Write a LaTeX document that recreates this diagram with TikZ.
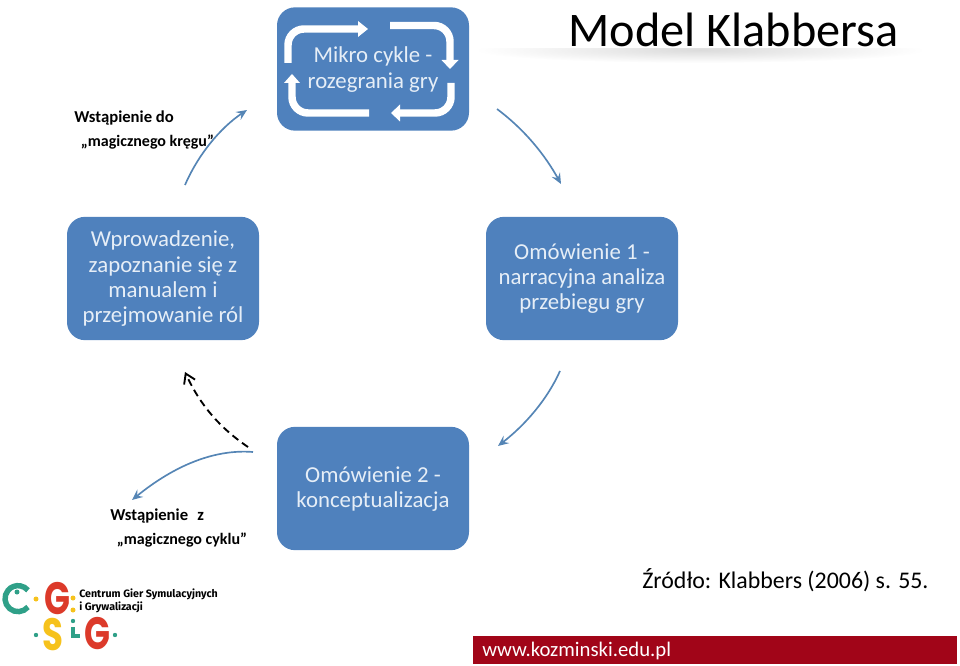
\documentclass[tikz,border=0pt]{standalone}
\usepackage{fontspec}
\setmainfont{Carlito}
\newfontfamily\logofont{Fira Sans}
\newfontfamily\logolettersfont{Poppins}
\usetikzlibrary{arrows.meta}
\definecolor{boxblue}{HTML}{4F81BD}
\definecolor{arrowblue}{HTML}{5585B5}
\definecolor{boxtext}{HTML}{E6EEF7}
\definecolor{bandred}{HTML}{A10518}
\definecolor{logoteal}{HTML}{2FA088}
\definecolor{logored}{HTML}{DC3A2A}
\definecolor{logoyellow}{HTML}{F6C21C}
\newcommand{\boxlines}[1]{\raisebox{-0.9pt}[\height][\depth]{\begin{tabular}{@{}c@{}}#1\end{tabular}}}
\tikzset{
  bluebox/.style={fill=boxblue,rounded corners=13.5pt,minimum width=144pt,minimum height=92.5pt,inner sep=0pt,outer sep=0pt,text=boxtext,font=\fontsize{17.1}{18.9}\selectfont},
  cyclearrow/.style={draw=arrowblue,line width=1.25pt,-{Stealth[length=8pt,width=7pt,inset=3pt]}},
  exitarrow/.style={draw=black,line width=1.4pt,dash pattern=on 5.5pt off 3.5pt,-{Straight Barb[length=7pt,width=9pt]}},
  sidelabel/.style={anchor=west,align=left,font=\fontsize{12}{18.2}\selectfont\bfseries,text=black,inner sep=0pt},
  cyc/.style={draw=white,line width=5.6pt,rounded corners=12pt},
  cychead/.style={fill=white,draw=none},
  logoletter/.style={inner sep=0pt,xscale=0.75,font=\fontsize{34}{34}\logolettersfont\bfseries},
  logotext/.style={inner sep=0pt,anchor=base west,font=\fontsize{8}{10}\logofont\bfseries},
}
\begin{document}
\begin{tikzpicture}[x=0.75pt,y=-0.75pt]
\useasboundingbox (0,0) rectangle (960,666);
% title shadow
\begin{scope}
\clip (470,49) rectangle (930,80);
\shade[inner color=black!14,outer color=white] (700,50) ellipse [x radius=225,y radius=13];
\end{scope}
\node[inner sep=0pt,font=\fontsize{36.2}{40}\selectfont] (title) at (733.5,30) {Model Klabbersa};
% boxes
\node[bluebox] (mikro) at (373,69) {\vphantom{x}};
\node[bluebox] (intro) at (163,278.5) {\boxlines{Wprowadzenie,\\zapoznanie się z\\manualem i\\przejmowanie ról}};
\node[bluebox] (om1) at (582,278.5) {\boxlines{Omówienie 1 -\\narracyjna analiza\\przebiegu gry}};
\node[bluebox] (om2) at (373,488.5) {\boxlines{Omówienie 2 -\\konceptualizacja}};
% micro cycle arrows
\draw[cyc] (288,63) -- (288,29) -- (358,29);
\fill[cychead] (358,21) -- (368,29) -- (358,37) -- cycle;
\draw[cyc] (390,25.5) -- (450,25.5) -- (450,61);
\fill[cychead] (441.5,60) -- (450,69) -- (458.5,60) -- cycle;
\draw[cyc] (451,83) -- (451,113) -- (400,113);
\fill[cychead] (400,104.5) -- (391,113) -- (400,121.5) -- cycle;
\draw[cyc] (369,113) -- (292,113) -- (292,83);
\fill[cychead] (284,83) -- (292,74) -- (300,83) -- cycle;
\node[inner sep=0pt,align=center,text=boxtext,font=\fontsize{17.1}{18.9}\selectfont] (mikrotext) at (373,69.5) {Mikro cykle -\\rozegrania gry};
% cycle arrows
\coordinate (a1) at (185,185); \coordinate (a2) at (247,110);
\coordinate (b1) at (497,109); \coordinate (b2) at (561,184);
\coordinate (c1) at (560,371); \coordinate (c2) at (498,446);
\coordinate (d1) at (253,452); \coordinate (d2) at (132,500);
\coordinate (e1) at (248,447); \coordinate (e2) at (185,372);
\draw[cyclearrow] (a1) .. controls (198,155) and (220,128) .. (a2);
\draw[cyclearrow] (b1) .. controls (525,130) and (545,155) .. (b2);
\draw[cyclearrow] (c1) .. controls (547,400) and (525,425) .. (c2);
\draw[cyclearrow] (d1) .. controls (215,449) and (175,465) .. (d2);
\draw[exitarrow] (e1) .. controls (220,428) and (200,405) .. (e2);
% side labels
\node[sidelabel] (enter) at (74,130) {{\fontsize{12.5}{18.2}\selectfont Wstąpienie do}\\\hspace*{5pt}„magicznego kręgu”};
\node[sidelabel] (leave) at (110,528) {{\fontsize{12.5}{18.2}\selectfont Wstąpienie\hspace{7pt}z}\\\hspace*{5pt}„magicznego cyklu”};
\node[inner sep=0pt,anchor=base west,font=\fontsize{17.9}{20}\selectfont] (src) at (642,588) {Źródło: Klabbers (2006) s. 55.};
% footer
\node[fill=bandred,minimum width=363pt,minimum height=21pt,inner sep=0pt,outer sep=0pt] (band) at (715,650) {};
\node[inner sep=0pt,anchor=base west,text=white,font=\fontsize{15.55}{18}\selectfont] (web) at (482,656.5) {www.kozminski.edu.pl};
% logo
\draw[logoteal,line width=4.1pt] (28,607) arc[start angle=40,end angle=320,radius=13];
\fill[logoteal] (17,592) circle (2.5);
\fill[logoyellow] (36,599) circle (2.5);
\node[logoletter,text=logored] (g1) at (57,599) {G};
\fill[logoyellow] (73,598) circle (2.5);
\fill[logoyellow] (73,610) circle (2.5);
\node[logotext] (cg1) at (79,597) {Centrum Gier Symulacyjnych};
\node[logotext] (cg2) at (79,610) {i Grywalizacji};
\fill[logoteal] (36,635) circle (2.2);
\node[logoletter,text=logoyellow] (s1) at (53,635) {S};
\fill[logoteal] (73,621) circle (2.2);
\draw[logoteal,line width=3pt] (73,627) -- (73,636) -- (80,636);
\node[logoletter,text=logored] (g2) at (97,634) {G};
\fill[logoteal] (115,635) circle (2.2);
\end{tikzpicture}
\end{document}
